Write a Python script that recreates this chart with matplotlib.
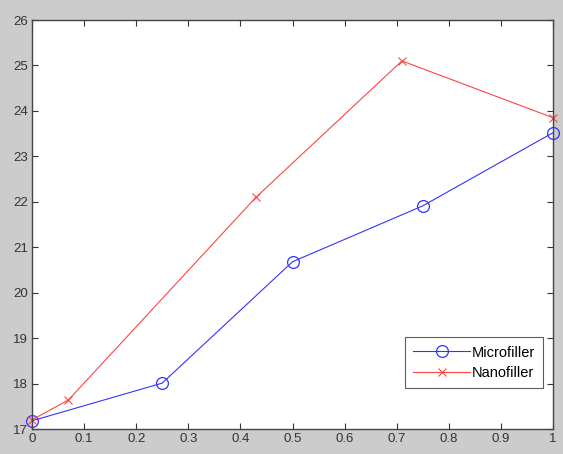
import matplotlib
matplotlib.use("Agg")
import matplotlib.pyplot as plt
import numpy as np

micro_x = [0, 0.25, 0.5, 0.75, 1.0]
micro_y = [17.18, 18.01, 20.68, 21.91, 23.52]
nano_x = [0, 0.07, 0.43, 0.71, 1.0]
nano_y = [17.2, 17.64, 22.1, 25.1, 23.85]
xticks = [0, 0.1, 0.2, 0.3, 0.4, 0.5, 0.6, 0.7, 0.8, 0.9, 1]
xticklabels = ["0", "0.1", "0.2", "0.3", "0.4", "0.5", "0.6", "0.7", "0.8", "0.9", "1"]
yticks = list(range(17, 27))

plt.rcParams['font.family'] = ['Liberation Sans', 'DejaVu Sans']

fig = plt.figure(figsize=(5.63, 4.54), dpi=100, facecolor='#cccccc')
ax = fig.add_axes([32/563, 25/454, 521/563, 409/454])
ax.set_facecolor('white')

ax.plot(micro_x, micro_y, color='#3333ff', lw=0.8, marker='o', ms=8.5,
        mfc='none', mec='#3333ff', mew=0.9, label='Microfiller', clip_on=False)
ax.plot(nano_x, nano_y, color='#ff4444', lw=0.8, marker='x', ms=6,
        mec='#ff4444', mew=0.8, label='Nanofiller', clip_on=False)

ax.set_xlim(0, 1)
ax.set_ylim(17, 26)
ax.set_xticks(xticks)
ax.set_xticklabels(xticklabels)
ax.set_yticks(yticks)
ax.tick_params(direction='in', top=True, right=True, length=4, width=0.8,
               labelsize=9.5, colors='#333333', pad=3)
for s in ax.spines.values():
    s.set_color('#444444')
    s.set_linewidth(1.0)

leg = ax.legend(loc='lower right', bbox_to_anchor=(0.981, 0.10), fontsize=10.5,
                frameon=True, fancybox=False, edgecolor='#333333',
                handlelength=3.9, handletextpad=0.1, borderpad=0.55,
                labelspacing=0.45, borderaxespad=0)
leg.get_frame().set_linewidth(0.8)

fig.savefig('out.png', dpi=100, facecolor=fig.get_facecolor())
